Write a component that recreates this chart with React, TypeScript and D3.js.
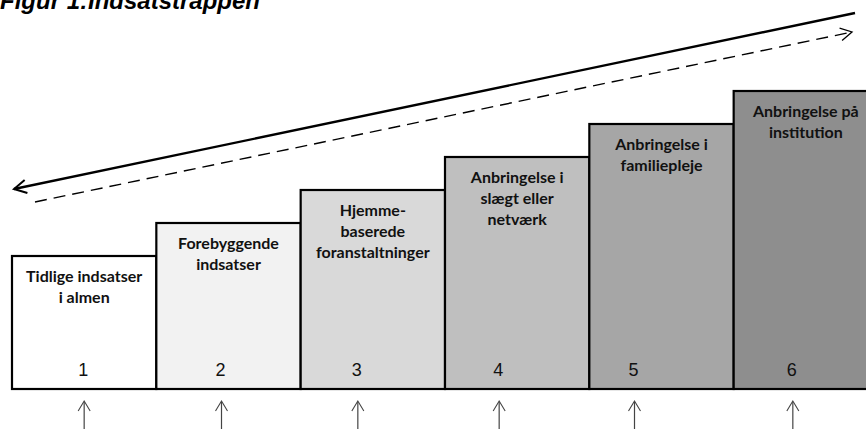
import React from 'react';
import * as d3 from 'd3';

const title = 'Figur 1:Indsatstrappen';

const stepNumbers = [1, 2, 3, 4, 5, 6];
const stepLevels = [1, 2, 3, 4, 5, 6];
const stepLabels = [
  ['Tidlige indsatser', 'i almen'],
  ['Forebyggende', 'indsatser'],
  ['Hjemme-', 'baserede', 'foranstaltninger'],
  ['Anbringelse i', 'slægt eller', 'netværk'],
  ['Anbringelse i', 'familiepleje'],
  ['Anbringelse på', 'institution'],
];
const stepFills = ['#ffffff', '#f2f2f2', '#d9d9d9', '#bfbfbf', '#a6a6a6', '#8e8e8e'];

const width = 866;
const height = 429;
const baseY = 389;
// small left shift of the number/arrow row under each step (as in the original)
const rowNudge = [-1, -8, -16, -19, -28, -14];

export default function App() {
  const x = d3.scaleBand<number>().domain(stepNumbers).range([12, 878]).padding(0);
  const y = d3.scaleLinear().domain([0, 6]).range([289, 91]);

  const solid = d3.line()([[855, 13], [14, 189]]);
  const dashed = d3.line()([[35, 202], [852, 32]]);

  // open chevron heads
  const head = (tip: [number, number], from: [number, number], len: number, spread: number) => {
    const ang = Math.atan2(from[1] - tip[1], from[0] - tip[0]);
    const a1 = ang + spread;
    const a2 = ang - spread;
    return d3.line()([
      [tip[0] + len * Math.cos(a1), tip[1] + len * Math.sin(a1)],
      tip,
      [tip[0] + len * Math.cos(a2), tip[1] + len * Math.sin(a2)],
    ]);
  };

  return (
    <svg
      width={width}
      height={height}
      style={{ position: 'absolute', left: 0, top: 0, background: '#fff' }}
    >
      <text
        x={0}
        y={9}
        fontFamily="Liberation Sans, Arial, sans-serif"
        fontWeight="bold"
        fontStyle="italic"
        fontSize={24}
      >
        {title}
      </text>

      <path d={solid!} stroke="#000" strokeWidth={2.4} fill="none" />
      <path d={head([14, 189], [855, 13], 14, 0.5)!} stroke="#000" strokeWidth={2} fill="none" />
      <path d={dashed!} stroke="#000" strokeWidth={1.4} strokeDasharray="12,7" fill="none" />
      <path d={head([852, 32], [35, 202], 13, 0.5)!} stroke="#000" strokeWidth={1.3} fill="none" />

      {stepNumbers.map((n, i) => {
        const x0 = x(n)!;
        const bw = x.bandwidth();
        const top = y(stepLevels[i]);
        const cx = x0 + bw / 2;
        const rowX = cx + rowNudge[i];
        return (
          <g key={n}>
            <rect
              x={x0}
              y={top}
              width={bw}
              height={baseY - top}
              fill={stepFills[i]}
              stroke="#000"
              strokeWidth={2.2}
            />
            <text
              textAnchor="middle"
              fontFamily="Lato, Open Sans, sans-serif"
              fontWeight="bold"
              fontSize={16}
              fill="#111"
            >
              {stepLabels[i].map((line, j) => (
                <tspan key={j} x={cx} y={top + 26 + j * 21}>
                  {line}
                </tspan>
              ))}
            </text>
            <text
              x={rowX}
              y={376}
              textAnchor="middle"
              fontFamily="Liberation Sans, Arial, sans-serif"
              fontSize={18}
              fill="#111"
            >
              {n}
            </text>
            <line x1={rowX + 1} x2={rowX + 1} y1={402} y2={height} stroke="#444" strokeWidth={1.2} />
            <path
              d={d3.line()([[rowX - 5, 411], [rowX + 1, 401], [rowX + 7, 411]])!}
              stroke="#444"
              strokeWidth={1.1}
              fill="none"
            />
          </g>
        );
      })}
    </svg>
  );
}
